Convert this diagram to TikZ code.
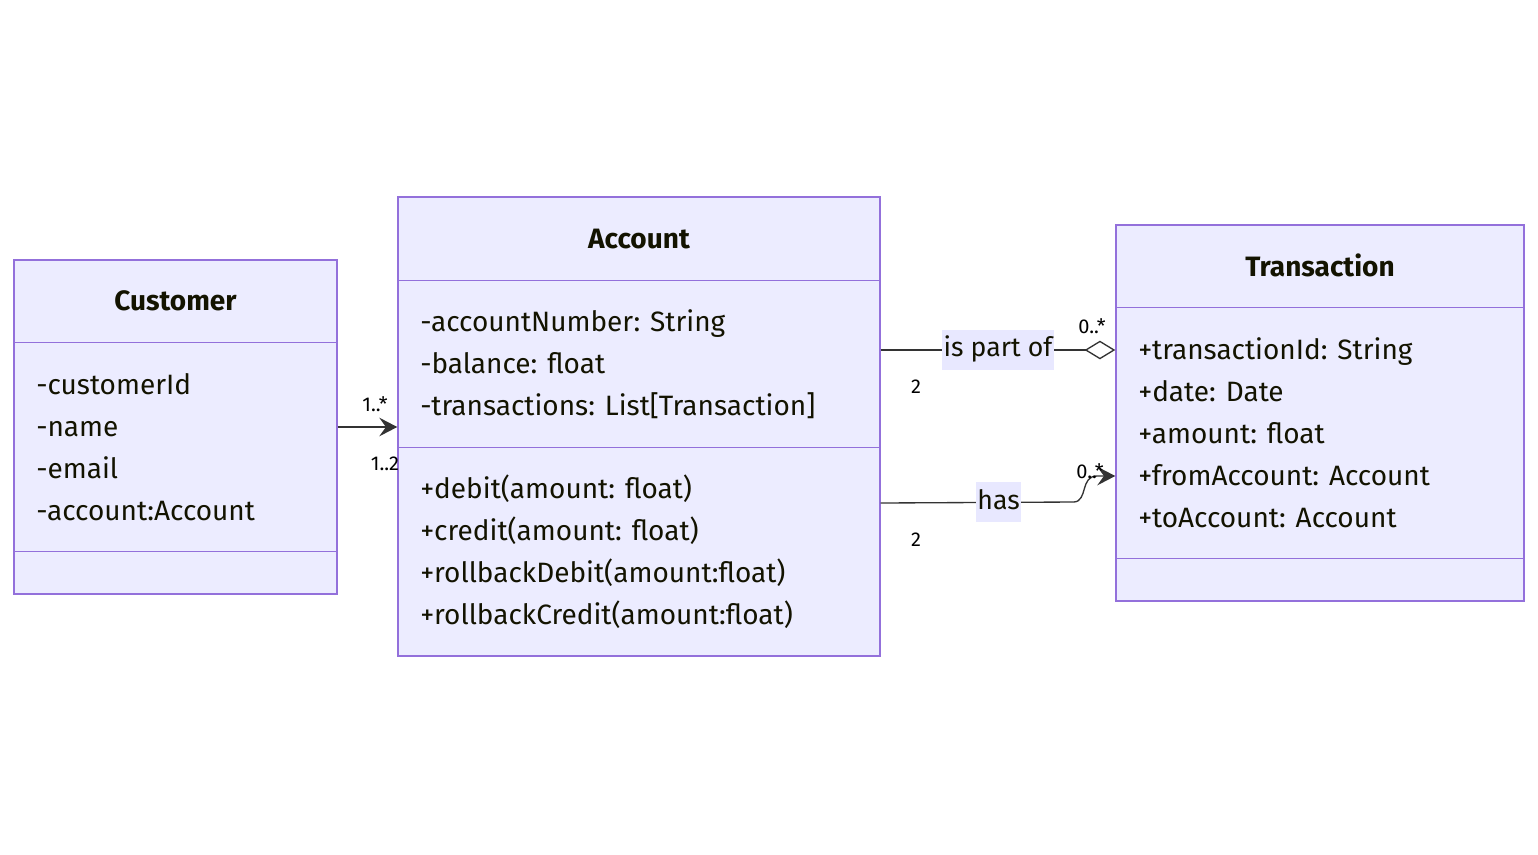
\documentclass[tikz,border=0pt]{standalone}
\usepackage{fontspec}
\setmainfont{Fira Sans}
\usetikzlibrary{arrows.meta}
\definecolor{boxfill}{HTML}{ECECFF}
\definecolor{boxline}{HTML}{9370DB}
\definecolor{edgeline}{HTML}{333333}
\definecolor{labeltext}{HTML}{131300}
\definecolor{relfill}{HTML}{E8E8FF}
\tikzset{
  classbox/.style={draw=boxline, fill=boxfill, line width=1.1pt, inner sep=0pt},
  divider/.style={draw=boxline, line width=1.1pt},
  classname/.style={anchor=base, inner sep=0pt, text=labeltext,
    font=\fontsize{21}{24}\selectfont\bfseries},
  member/.style={anchor=base west, inner sep=0pt, text=labeltext,
    font=\fontsize{21}{24}\selectfont},
  relation/.style={draw=edgeline, line width=1pt},
  relname/.style={fill=relfill, inner xsep=1pt, inner ysep=0pt,
    text height=20pt, text depth=10pt,
    text=labeltext, font=\fontsize{20}{24}\selectfont},
  mult/.style={inner sep=0pt, text=black, font=\fontsize{15}{17}\selectfont},
  navarrow/.style={-{Stealth[length=13.5pt, width=14pt, inset=5pt]}},
  aggregation/.style={-{Diamond[open, length=23pt, width=14pt]}}
}
\begin{document}
\begin{tikzpicture}[x=0.75pt, y=-0.75pt]
  \useasboundingbox (0,0) rectangle (1538,854);
  % classes
  \node[classbox, minimum width=242.25pt, minimum height=250.5pt] (customer) at (175.5,427) {};
  \node[classbox, minimum width=361.5pt, minimum height=344.25pt] (account) at (639,426.5) {};
  \node[classbox, minimum width=306pt, minimum height=282pt] (transaction) at (1320,413) {};
  \draw[divider] (customer.north west) ++(0,83) -- ++(323,0);
  \draw[divider] (customer.north west) ++(0,292) -- ++(323,0);
  \draw[divider] (account.north west) ++(0,84) -- ++(482,0);
  \draw[divider] (account.north west) ++(0,251) -- ++(482,0);
  \draw[divider] (transaction.north west) ++(0,83) -- ++(408,0);
  \draw[divider] (transaction.north west) ++(0,334) -- ++(408,0);
  % names
  \node[classname] (customer-name) at (175.5,310) {Customer};
  \node[classname] (account-name) at (639,248) {Account};
  \node[classname] (transaction-name) at (1320,276) {Transaction};
  % members
  \foreach \m [count=\i] in {-customerId, -name, -email, -account:Account}
    \node[member] (customer-\i) at (36,352+42*\i) {\m};
  \foreach \m [count=\i] in {-accountNumber: String, -balance: float,
      {-transactions: List[Transaction]}}
    \node[member] (account-a\i) at (420,289+42*\i) {\m};
  \foreach \m [count=\i] in {+debit(amount: float), +credit(amount: float),
      +rollbackDebit(amount:float), +rollbackCredit(amount:float)}
    \node[member] (account-m\i) at (420,456+42*\i) {\m};
  \foreach \m [count=\i] in {+transactionId: String, +date: Date, +amount: float,
      +fromAccount: Account, +toAccount: Account}
    \node[member] (transaction-\i) at (1138,317+42*\i) {\m};
  % relations
  \draw[relation, navarrow] (customer.east) -- (account.west |- customer.east);
  \node[mult] (customer-mult) at (375,404) {1..*};
  \node[mult] (account-mult) at (385,464) {1..2};
  \draw[relation, aggregation] (account.east |- 0,350)
    -- node[relname, pos=0.5] (partof) {is part of} (transaction.west |- 0,350);
  \node[mult] (partof-from) at (916,387) {2};
  \node[mult] (partof-to) at (1092,326) {0..*};
  \draw[relation, navarrow] (account.east |- 0,503) -- node[relname, pos=0.61] (has) {has} (1074,502)
    .. controls (1088,501) and (1080,476) .. (1097,476) -- (transaction.west |- 0,476);
  \node[mult] (has-from) at (916,540) {2};
  \node[mult] (has-to) at (1090,471) {0..*};
\end{tikzpicture}
\end{document}
